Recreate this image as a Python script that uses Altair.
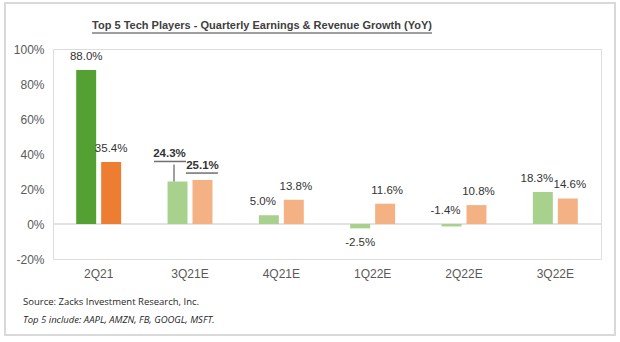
import altair as alt
import pandas as pd

quarters = ["2Q21", "3Q21E", "4Q21E", "1Q22E", "2Q22E", "3Q22E"]
earnings = [88.0, 24.3, 5.0, -2.5, -1.4, 18.3]
revenue = [35.4, 25.1, 13.8, 11.6, 10.8, 14.6]
series = ["Earnings", "Revenue"]

rows = []
for i, q in enumerate(quarters):
    for s, vals in zip(series, [earnings, revenue]):
        v = vals[i]
        actual = i == 0
        if s == "Earnings":
            color = "#55A032" if actual else "#A9D18E"
        else:
            color = "#ED7D31" if actual else "#F4B183"
        rows.append({"q": q, "s": s, "v": v, "color": color,
                     "label": f"{v:.1f}%",
                     "pos": "below" if v < -2 else ("bold" if q == "3Q21E" else "above"),
                     "ypos": max(v, 0) if v > -2 else v})
df = pd.DataFrame(rows)

FONT = "Liberation Sans"
W, H = 548, 210
TXT = "#333333"

yscale = alt.Scale(domain=[-20, 100], nice=False)
yaxis = alt.Axis(title=None, values=[-20, 0, 20, 40, 60, 80, 100],
                 labelExpr="datum.value + '%'", labelFont=FONT, labelFontSize=12,
                 labelColor="#595959", domain=False, ticks=False, grid=False,
                 labelPadding=9, labelOverlap=False)
x = alt.X("q:N", sort=quarters, scale=alt.Scale(paddingInner=0, paddingOuter=0),
          axis=alt.Axis(title=None, labelFont=FONT, labelFontSize=12, labelColor="#595959",
                        domain=False, ticks=False, labelPadding=9, labelAngle=0))
xo = alt.XOffset("s:N", sort=series, scale=alt.Scale(paddingInner=0.2, paddingOuter=0.93))
y = alt.Y("v:Q", scale=yscale, axis=yaxis)
yp = alt.Y("ypos:Q", scale=yscale, axis=yaxis)

base = alt.Chart(df)

bars = base.mark_bar().encode(x=x, xOffset=xo, y=y, y2=alt.datum(0),
                              color=alt.Color("color:N", scale=None))

zero = alt.Chart(pd.DataFrame({"v": [0]})).mark_rule(color="#D9D9D9", strokeWidth=1.5).encode(
    y=y, x=alt.value(0), x2=alt.value(W))

LBL = dict(font=FONT, fontSize=11.5, color=TXT)

above_first = base.transform_filter("datum.pos == 'above' && datum.q == '2Q21'").mark_text(
    dy=-13, **LBL).encode(x=x, xOffset=xo, y=yp, text="label:N")
above_e = base.transform_filter(
    "datum.pos == 'above' && datum.q != '2Q21' && datum.s == 'Earnings'").mark_text(
    dy=-13, dx=-6, **LBL).encode(x=x, xOffset=xo, y=yp, text="label:N")
above_r = base.transform_filter(
    "datum.pos == 'above' && datum.q != '2Q21' && datum.s == 'Revenue'").mark_text(
    dy=-13, dx=2, **LBL).encode(x=x, xOffset=xo, y=yp, text="label:N")

below = base.transform_filter("datum.pos == 'below'").mark_text(dy=15, **LBL).encode(
    x=x, xOffset=xo, y=y, text="label:N")

bold_e = base.transform_filter("datum.pos == 'bold' && datum.s == 'Earnings'").mark_text(
    fontWeight="bold", dy=-27, dx=-8, **LBL).encode(
    x=x, xOffset=xo, y=y, text="label:N")
bold_r = base.transform_filter("datum.pos == 'bold' && datum.s == 'Revenue'").mark_text(
    fontWeight="bold", dy=-14, dx=0, **LBL).encode(
    x=x, xOffset=xo, y=y, text="label:N")

# underlines and leader: positioned from the category centre (no xOffset channel)
ul_e = base.transform_filter("datum.pos == 'bold' && datum.s == 'Earnings'").mark_tick(
    color=TXT, thickness=1.5, size=32, orient="horizontal", xOffset=-20, yOffset=-20).encode(
    x=x, y=y)
ul_r = base.transform_filter("datum.pos == 'bold' && datum.s == 'Revenue'").mark_tick(
    color=TXT, thickness=1.5, size=32, orient="horizontal", xOffset=12, yOffset=-7).encode(
    x=x, y=y)
leader = base.transform_filter("datum.pos == 'bold' && datum.s == 'Earnings'").mark_rule(
    color="#404040", strokeWidth=1, xOffset=-16, y2Offset=-17).encode(
    x=x, y=y, y2="v:Q")

title = alt.Chart(pd.DataFrame({"t": ["Top 5 Tech Players - Quarterly Earnings & Revenue Growth (YoY)"]})).mark_text(
    font=FONT, fontSize=11, fontWeight="bold", color="#404040", align="center", baseline="middle").encode(
    x=alt.value(209), y=alt.value(-23), text="t:N")
title_ul = alt.Chart(pd.DataFrame({"a": [0]})).mark_rule(color="#404040", strokeWidth=1.2).encode(
    x=alt.value(39), x2=alt.value(379), y=alt.value(-16))

foot1 = alt.Chart(pd.DataFrame({"t": ["Source: Zacks Investment Research, Inc."]})).mark_text(
    font="Open Sans", fontSize=9.5, color="#262626", align="left", baseline="middle").encode(
    x=alt.value(-30), y=alt.value(43 + H), text="t:N")
foot2 = alt.Chart(pd.DataFrame({"t": ["Top 5 include: AAPL, AMZN, FB, GOOGL, MSFT."]})).mark_text(
    font="Open Sans", fontSize=9.5, fontStyle="italic", color="#262626", align="left", baseline="middle").encode(
    x=alt.value(-30), y=alt.value(61 + H), text="t:N")

frame = alt.Chart(pd.DataFrame({"a": [0]})).mark_rect(
    fill="transparent", stroke="#D9D9D9", strokeWidth=2).encode(
    x=alt.value(-48), x2=alt.value(562), y=alt.value(-46), y2=alt.value(286))

chart = alt.layer(frame, zero, bars, above_first, above_e, above_r, below, bold_e, bold_r,
                  ul_e, ul_r, leader, title, title_ul, foot1, foot2).properties(
    width=W, height=H,
    autosize=alt.AutoSizeParams(type="none"),
    padding={"left": 53, "top": 49, "right": 19, "bottom": 83},
).configure_view(stroke=None).configure(background="white")

chart.save("out.html", embed_options={"renderer": "svg", "actions": False})
